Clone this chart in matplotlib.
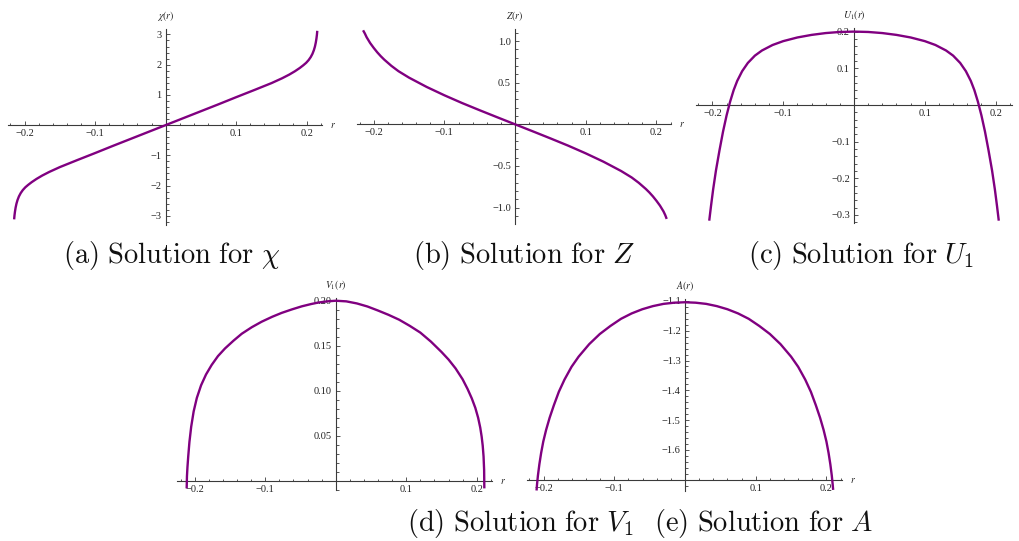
import matplotlib
matplotlib.use("Agg")
import matplotlib.pyplot as plt
from matplotlib.ticker import FixedLocator, MultipleLocator, FuncFormatter

W, H = 1020, 541

# ---------------- data ----------------
chi_r = [-0.2148, -0.2143, -0.2136, -0.2127, -0.2115, -0.21, -0.208, -0.2055, -0.2025,
         -0.199, -0.195, -0.19, -0.183, -0.175, -0.165, -0.15, -0.125, -0.1, -0.075,
         -0.05, -0.025, 0.0, 0.025, 0.05, 0.075, 0.1, 0.125, 0.15, 0.165, 0.175, 0.183,
         0.19, 0.195, 0.199, 0.2025, 0.2055, 0.208, 0.21, 0.2115, 0.2127, 0.2136,
         0.2143, 0.2148]
chi_v = [-3.12, -2.99, -2.86, -2.73, -2.60, -2.48, -2.36, -2.25, -2.15,
         -2.06, -1.98, -1.89, -1.78, -1.67, -1.55, -1.39, -1.155, -0.925, -0.69,
         -0.46, -0.23, 0.0, 0.23, 0.46, 0.69, 0.925, 1.155, 1.39, 1.55, 1.67, 1.78,
         1.89, 1.98, 2.06, 2.15, 2.25, 2.36, 2.48, 2.60, 2.73, 2.86,
         2.99, 3.12]

z_r = [-0.2150, -0.2125, -0.21, -0.205, -0.2, -0.195, -0.19, -0.185, -0.175, -0.165,
       -0.15, -0.125, -0.1, -0.075, -0.05, -0.025, 0.0, 0.025, 0.05, 0.075, 0.1, 0.125,
       0.15, 0.165, 0.175, 0.185, 0.19, 0.195, 0.2, 0.205, 0.21, 0.2125, 0.2145]
z_v = [1.13, 1.092, 1.047, 0.977, 0.919, 0.866, 0.819, 0.777, 0.703, 0.639,
       0.561, 0.449, 0.349, 0.256, 0.169, 0.084, 0.0, -0.084, -0.169, -0.256, -0.349, -0.449,
       -0.561, -0.639, -0.703, -0.777, -0.819, -0.866, -0.919, -0.977, -1.047, -1.092, -1.137]

u_r = [-0.2045, -0.202, -0.199, -0.195, -0.19, -0.185, -0.18, -0.175, -0.17, -0.165,
       -0.158, -0.15, -0.14, -0.13, -0.115, -0.1, -0.08, -0.06, -0.04, -0.02, 0.0,
       0.02, 0.04, 0.06, 0.08, 0.1, 0.115, 0.13, 0.14, 0.15, 0.158, 0.165, 0.17,
       0.175, 0.18, 0.185, 0.19, 0.195, 0.199, 0.202, 0.2045]
u_v = [-0.3155, -0.2755, -0.2305, -0.1785, -0.1235, -0.0725, -0.0285, 0.009, 0.0405, 0.0655,
       0.0921, 0.1145, 0.1345, 0.1485, 0.1635, 0.174, 0.184, 0.191, 0.196, 0.199, 0.200,
       0.199, 0.196, 0.191, 0.184, 0.174, 0.1635, 0.1485, 0.1345, 0.1145, 0.0921, 0.0655, 0.0405,
       0.009, -0.0285, -0.0725, -0.1235, -0.1785, -0.2305, -0.2755, -0.3155]

v_r = [-0.2114, -0.2110, -0.2103, -0.2092, -0.2075, -0.2050, -0.2015, -0.1970, -0.1910,
       -0.1840, -0.1760, -0.1670, -0.1570, -0.1450, -0.1333, -0.1190, -0.1050, -0.0900,
       -0.0766, -0.0620, -0.0480, -0.0350, -0.0246, -0.0120, 0.0, 0.015, 0.03, 0.045,
       0.06, 0.075, 0.09, 0.105, 0.12, 0.135, 0.15, 0.16, 0.17, 0.18, 0.187, 0.193,
       0.198, 0.202, 0.205, 0.207, 0.2085, 0.2097, 0.2105, 0.2108]
v_v = [-0.0085, 0.005, 0.015, 0.027, 0.043, 0.060, 0.077, 0.092, 0.106,
       0.118, 0.1286, 0.1385, 0.1470, 0.1556, 0.1633, 0.1706, 0.1767, 0.1822,
       0.1865, 0.1904, 0.1938, 0.1963, 0.1980, 0.1993, 0.2000, 0.1993, 0.1970, 0.1936,
       0.1891, 0.1843, 0.1789, 0.1721, 0.1646, 0.1546, 0.1431, 0.1347, 0.1248, 0.1127,
       0.1020, 0.0915, 0.0810, 0.0700, 0.0590, 0.0490, 0.0390, 0.0270, 0.0120, -0.0085]

a_r = [-0.2100, -0.2093, -0.2080, -0.2060, -0.2035, -0.2005, -0.1965, -0.1915, -0.1855,
       -0.1785, -0.1705, -0.1605, -0.1505, -0.1355, -0.1205, -0.1055, -0.0905, -0.0755,
       -0.0605, -0.0455, -0.0305, -0.0155, 0.0, 0.015, 0.03, 0.045, 0.06, 0.075, 0.09,
       0.105, 0.12, 0.135, 0.15, 0.16, 0.17, 0.178, 0.185, 0.191, 0.196, 0.2, 0.203,
       0.2055, 0.2075, 0.2088, 0.2095]
a_v = [-1.736, -1.715, -1.685, -1.648, -1.610, -1.572, -1.533, -1.492, -1.450,
       -1.405, -1.364, -1.321, -1.287, -1.245, -1.211, -1.184, -1.160, -1.142,
       -1.128, -1.1175, -1.110, -1.106, -1.1045, -1.106, -1.110, -1.1175, -1.128, -1.142, -1.160,
       -1.184, -1.211, -1.245, -1.287, -1.321, -1.364, -1.405, -1.450, -1.492, -1.533, -1.572, -1.610,
       -1.648, -1.685, -1.715, -1.734]

x_major = [-0.2, -0.1, 0.1, 0.2]
chi_ticks = [-3, -2, -1, 1, 2, 3]
z_ticks = [-1.0, -0.5, 0.5, 1.0]
u_ticks = [-0.3, -0.2, -0.1, 0.1, 0.2]
v_ticks = [0.05, 0.10, 0.15, 0.20]
a_ticks = [-1.6, -1.5, -1.4, -1.3, -1.2, -1.1]

captions = [r"$\mathrm{(a)\ Solution\ for\ }\chi$",
            r"$\mathrm{(b)\ Solution\ for\ }Z$",
            r"$\mathrm{(c)\ Solution\ for\ }U_1$",
            r"$\mathrm{(d)\ Solution\ for\ }V_1$",
            r"$\mathrm{(e)\ Solution\ for\ }A$"]
ylabels = [r"$\chi(r)$", r"$Z(r)$", r"$U_1(r)$", r"$V_1(r)$", r"$A(r)$"]

# ---------------- figure ----------------
fig = plt.figure(figsize=(W / 100, H / 100), dpi=100)
PURPLE = "#800080"
AXC = "#3a3a3a"
TXT = "#222222"


def fmt(nd):
    def f(v, pos):
        s = ("%." + str(nd) + "f") % v
        return s.replace("-", "\u2212")
    return f


def panel(box, xlim, ylim, xaxis_y, xs, ys, yticks, ynd, yminor, ylabel, show_r=True):
    l, t, r, b = box
    ax = fig.add_axes([l / W, 1 - b / H, (r - l) / W, (b - t) / H])
    ax.set_facecolor("none")
    ax.plot(xs, ys, color=PURPLE, lw=1.7, solid_capstyle="butt",
            solid_joinstyle="round", clip_on=False, zorder=3)
    ax.set_xlim(*xlim)
    ax.set_ylim(*ylim)
    for s in ("top", "right"):
        ax.spines[s].set_visible(False)
    ax.spines["left"].set_position(("data", 0))
    ax.spines["bottom"].set_position(("data", xaxis_y))
    for s in ("left", "bottom"):
        ax.spines[s].set_color(AXC)
        ax.spines[s].set_linewidth(0.8)
    ax.xaxis.set_major_locator(FixedLocator(x_major))
    ax.xaxis.set_minor_locator(MultipleLocator(0.02))
    ax.xaxis.set_major_formatter(FuncFormatter(fmt(1)))
    ax.yaxis.set_major_locator(FixedLocator(yticks))
    ax.yaxis.set_minor_locator(MultipleLocator(yminor))
    ax.yaxis.set_major_formatter(FuncFormatter(fmt(ynd)))
    ax.tick_params(which="both", direction="in", color=AXC, width=0.6,
                   labelsize=7.5, labelcolor=TXT)
    ax.tick_params(which="major", length=3.0)
    ax.tick_params(which="minor", length=1.8)
    ax.tick_params(axis="x", pad=3)
    ax.tick_params(axis="y", pad=3)
    for lab in ax.get_xticklabels() + ax.get_yticklabels():
        lab.set_fontfamily("Liberation Serif")
    if show_r:
        ax.annotate(r"$r$", xy=(xlim[1], xaxis_y), xycoords="data", xytext=(11, 0),
                    textcoords="offset pixels", ha="center", va="center", fontsize=7,
                    color=TXT, math_fontfamily="stix", annotation_clip=False)
    ax.annotate(ylabel, xy=(0, ylim[1]), xycoords="data", xytext=(0, 13),
                textcoords="offset pixels", ha="center", va="center", fontsize=7,
                color=TXT, math_fontfamily="stix", annotation_clip=False)
    return ax


panel((8.0, 29.0, 322.0, 224.5), (-0.2235, 0.2215), (-3.29, 3.18), 0,
      chi_r, chi_v, chi_ticks, 0, 0.2, ylabels[0])
panel((357.0, 29.3, 671.5, 224.0), (-0.2236, 0.2213), (-1.198, 1.142), 0,
      z_r, z_v, z_ticks, 1, 0.1, ylabels[1])
panel((696.0, 28.3, 1012.3, 222.7), (-0.2232, 0.2236), (-0.321, 0.209), 0,
      u_r, u_v, u_ticks, 1, 0.02, ylabels[2], show_r=False)
panel((177.3, 298.3, 492.3, 490.0), (-0.2247, 0.2221), (-0.0103, 0.2027), 0,
      v_r, v_v, v_ticks, 2, 0.01, ylabels[3])
panel((527.0, 299.0, 842.0, 490.5), (-0.2235, 0.222), (-1.736, -1.0936), -1.7,
      a_r, a_v, a_ticks, 1, 0.02, ylabels[4])

cap_pos = [(172, 256), (524, 256), (861, 256), (520, 523), (764, 523)]
for (cx, cy), c in zip(cap_pos, captions):
    fig.text(cx / W, 1 - cy / H, c, ha="center", va="center", fontsize=20.5,
             math_fontfamily="cm", color="#111111")

fig.savefig("out.png", dpi=100)
